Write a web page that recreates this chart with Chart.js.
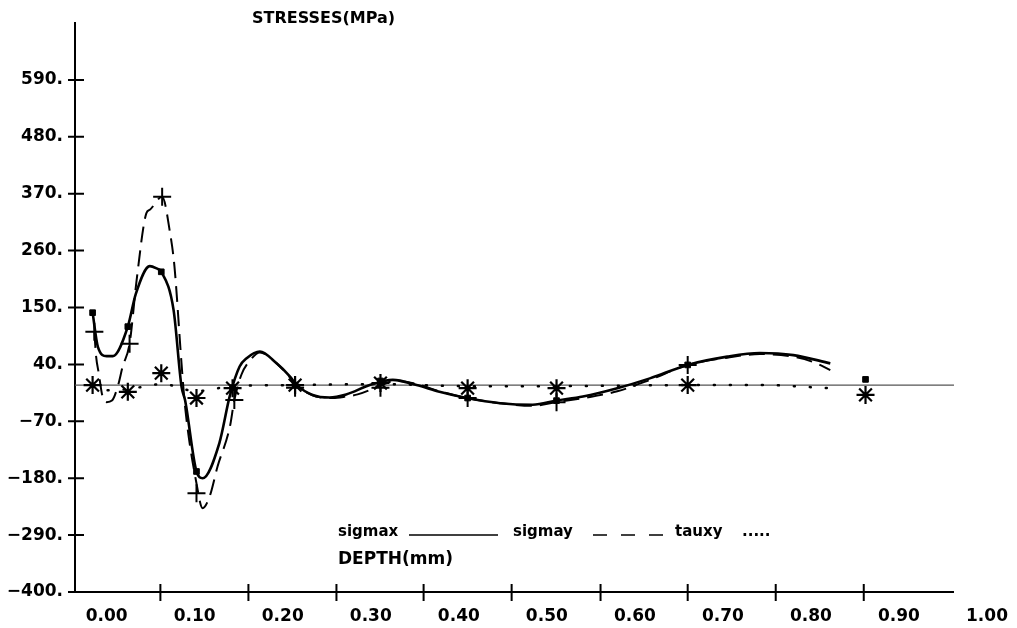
<!DOCTYPE html>
<html>
<head>
<meta charset="utf-8">
<script src="https://cdn.jsdelivr.net/npm/chart.js@4.4.1/dist/chart.umd.min.js"></script>
<style>
  html, body { margin: 0; padding: 0; background: #fff; }
  #wrap { width: 1017px; height: 628px; }
</style>
</head>
<body>
<div id="wrap"><canvas id="chart"></canvas></div>
<script>
// depth (mm) and stress (MPa)
const sigmaxDepth = [-0.016, -0.010, 0.000, 0.007, 0.024, 0.033, 0.049, 0.056, 0.062, 0.076, 0.085, 0.089, 0.102, 0.109, 0.128, 0.140, 0.151, 0.159, 0.174, 0.193, 0.208, 0.216, 0.234, 0.253, 0.272, 0.299, 0.325, 0.352, 0.378, 0.409, 0.447, 0.484, 0.511, 0.541, 0.580, 0.617, 0.660, 0.705, 0.742, 0.780, 0.822]
const sigmaxValue = [140, 74, 56, 56, 113, 176, 230, 226, 219, 145, -3, -29, -167, -180, -112, -20, 36, 52, 65, 42, 17, 0, -19, -24, -18, 0, 10, 0, -13, -25, -35, -38, -30, -22, -6, 13, 39, 55, 62, 58, 42]

const sigmayDepth = [-0.014, -0.012, -0.009, -0.005, 0.000, 0.006, 0.013, 0.018, 0.026, 0.034, 0.045, 0.049, 0.063, 0.072, 0.077, 0.085, 0.089, 0.102, 0.109, 0.117, 0.126, 0.140, 0.145, 0.153, 0.163, 0.174, 0.193, 0.208, 0.219, 0.238, 0.257, 0.272, 0.285, 0.310, 0.327, 0.352, 0.378, 0.409, 0.447, 0.484, 0.511, 0.552, 0.580, 0.617, 0.660, 0.705, 0.742, 0.780, 0.802, 0.822]
const sigmayValue = [103, 55, 23, -20, -33, -30, 0, 35, 80, 203, 332, 339, 364, 294, 229, 42, -41, -190, -238, -215, -157, -80, -29, 20, 48, 63, 42, 15, -5, -22, -25, -22, -18, -2, 8, 2, -12, -25, -35, -40, -33, -22, -12, 10, 39, 53, 60, 55, 45, 29]

const tauxyDepth = [-0.016, 0.000, 0.024, 0.063, 0.102, 0.120, 0.143, 0.214, 0.311, 0.410, 0.511, 0.660, 0.750, 0.800, 0.822]
const tauxyValue = [0, -10, -8, 2, -12, -8, -2, 0, 2, -2, -2, 0, 0, -4, -6]

// measured points (markers)
const pointDepth = [-0.016, 0.024, 0.062, 0.102, 0.143, 0.214, 0.311, 0.410, 0.511, 0.660, 0.862]
const sigmaxPoints = [140, 113, 219, -167, -5, 0, 8, -25, -30, 39, 11]
const sigmayPointDepth = [-0.014, 0.026, 0.063, 0.102, 0.145, 0.214, 0.311, 0.410, 0.511, 0.660]
const sigmayPoints = [103, 80, 364, -209, -29, -5, -5, -25, -33, 39]
const tauxyPoints = [0, -13, 23, -25, -6, 0, 4, -6, -6, 0, -19]

// axes
const yTicks = [-400, -290, -180, -70, 40, 150, 260, 370, 480, 590]
const xLabels = [0.0, 0.1, 0.2, 0.3, 0.4, 0.5, 0.6, 0.7, 0.8, 0.9, 1.0]
const xTickMarks = [0.061, 0.161, 0.261, 0.360, 0.460, 0.561, 0.660, 0.760, 0.860]
const X_MIN = -0.036
const X_MAX = 1.0
const X_AXIS_END = 0.9625
const Y_MIN = -400
const Y_MAX = 700

const zip = (xs, ys) => xs.map((x, i) => ({ x: x, y: ys[i] }))

const FONT = '"DejaVu Sans", sans-serif'

const plotterAxes = {
    id: 'plotterAxes',
    beforeDatasetsDraw(chart) {
        const { ctx, scales: { x, y } } = chart
        // zero line
        ctx.save()
        ctx.strokeStyle = '#555'
        ctx.lineWidth = 1.4
        ctx.beginPath()
        ctx.moveTo(x.getPixelForValue(X_MIN), y.getPixelForValue(0))
        ctx.lineTo(x.getPixelForValue(X_AXIS_END), y.getPixelForValue(0))
        ctx.stroke()
        ctx.restore()
    },
    afterDraw(chart) {
        const { ctx, scales: { x, y } } = chart
        const y0 = y.getPixelForValue(Y_MIN)
        const x0 = x.getPixelForValue(X_MIN)
        ctx.save()
        ctx.strokeStyle = '#000'
        ctx.lineWidth = 2
        ctx.beginPath()
        ctx.moveTo(x0, y0)
        ctx.lineTo(x.getPixelForValue(X_AXIS_END), y0)
        xTickMarks.forEach(v => {
            const px = x.getPixelForValue(v)
            ctx.moveTo(px, y0 - 8)
            ctx.lineTo(px, y0 + 9)
        })
        yTicks.forEach(v => {
            const py = y.getPixelForValue(v)
            ctx.moveTo(x0 - 7, py)
            ctx.lineTo(x0 + 9, py)
        })
        ctx.stroke()

        // title + legend text
        ctx.fillStyle = '#000'
        ctx.textBaseline = 'middle'
        ctx.font = 'bold 16px ' + FONT
        ctx.fillText('STRESSES(MPa)', 252, 19)

        ctx.font = 'bold 15px ' + FONT
        ctx.fillText('sigmax', 338, 532)
        ctx.fillText('sigmay', 513, 532)
        ctx.fillText('tauxy', 675, 532)
        ctx.fillText('.....', 742, 532)
        ctx.font = 'bold 17px ' + FONT
        ctx.fillText('DEPTH(mm)', 338, 560)

        ctx.lineWidth = 1.5
        ctx.beginPath()
        ctx.moveTo(409, 535)
        ctx.lineTo(498, 535)
        ctx.stroke()
        ctx.setLineDash([14, 14])
        ctx.beginPath()
        ctx.moveTo(593, 535)
        ctx.lineTo(664, 535)
        ctx.stroke()
        ctx.restore()
    }
}

new Chart(document.getElementById('chart').getContext('2d'), {
    type: 'line',
    data: {
        datasets: [
            {
                label: 'sigmax',
                data: zip(sigmaxDepth, sigmaxValue),
                borderColor: '#000',
                borderWidth: 2.6,
                cubicInterpolationMode: 'monotone',
                pointRadius: 0
            },
            {
                label: 'sigmay',
                data: zip(sigmayDepth, sigmayValue),
                borderColor: '#000',
                borderWidth: 2,
                borderDash: [16, 8],
                cubicInterpolationMode: 'monotone',
                pointRadius: 0
            },
            {
                label: 'tauxy',
                data: zip(tauxyDepth, tauxyValue),
                borderColor: '#000',
                borderWidth: 2.5,
                borderDash: [1, 15],
                borderCapStyle: 'round',
                cubicInterpolationMode: 'monotone',
                pointRadius: 0
            },
            {
                label: 'sigmax points',
                data: zip(pointDepth, sigmaxPoints),
                showLine: false,
                pointStyle: 'rect',
                pointRadius: 4,
                backgroundColor: '#000',
                borderColor: '#000'
            },
            {
                label: 'sigmay points',
                data: zip(sigmayPointDepth, sigmayPoints),
                showLine: false,
                pointStyle: 'cross',
                pointRadius: 9,
                pointBorderWidth: 2,
                borderColor: '#000'
            },
            {
                label: 'tauxy points',
                data: zip(pointDepth, tauxyPoints),
                showLine: false,
                pointStyle: 'star',
                pointRadius: 9,
                pointBorderWidth: 2.2,
                borderColor: '#000'
            }
        ]
    },
    options: {
        responsive: true,
        maintainAspectRatio: false,
        animation: false,
        layout: { padding: { top: 23, right: 30, left: 0, bottom: 0 } },
        plugins: {
            legend: { display: false },
            tooltip: { enabled: false }
        },
        scales: {
            x: {
                type: 'linear',
                min: X_MIN,
                max: X_MAX,
                afterBuildTicks: (scale) => { scale.ticks = xLabels.map(v => ({ value: v })) },
                afterFit: (scale) => { scale.height = 36 },
                grid: { display: false },
                border: { display: false },
                ticks: {
                    color: '#000',
                    padding: 6,
                    maxRotation: 0,
                    autoSkip: false,
                    font: { family: FONT, weight: 'bold', size: 17 },
                    callback: (v) => v.toFixed(2)
                }
            },
            y: {
                type: 'linear',
                min: Y_MIN,
                max: Y_MAX,
                afterBuildTicks: (scale) => { scale.ticks = yTicks.map(v => ({ value: v })) },
                afterFit: (scale) => { scale.width = 75 },
                grid: { display: false },
                border: { display: true, color: '#000', width: 2 },
                ticks: {
                    color: '#000',
                    padding: 4,
                    font: { family: FONT, weight: 'bold', size: 17 },
                    callback: (v) => (v < 0 ? '\u2212' + Math.abs(v) : v) + '.'
                }
            }
        }
    },
    plugins: [plotterAxes]
});
</script>
</body>
</html>
